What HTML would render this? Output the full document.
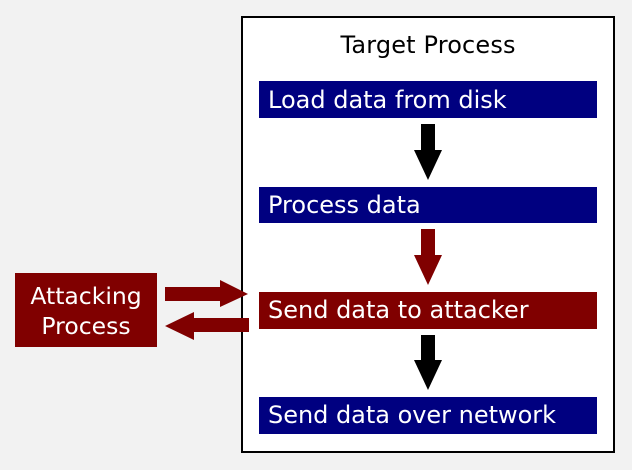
<!DOCTYPE html>
<html><head><style>html,body{margin:0;padding:0;background:#f2f2f2}svg{display:block}</style></head><body>
<svg width="632" height="470" xmlns="http://www.w3.org/2000/svg" font-family="DejaVu Sans, sans-serif">
<rect x="0" y="0" width="632" height="470" fill="#f2f2f2"/>
<rect x="242" y="17" width="372" height="435" fill="#fff" stroke="#000" stroke-width="2"/>
<text x="428" y="53" font-size="24" text-anchor="middle" fill="#000" textLength="175">Target Process</text>
<rect x="259" y="81" width="338" height="37" fill="#000080"/>
<text x="268" y="108" font-size="24" fill="#fff">Load data from disk</text>
<rect x="259" y="187" width="338" height="36" fill="#000080"/>
<text x="268" y="213" font-size="24" fill="#fff">Process data</text>
<rect x="259" y="292" width="338" height="37" fill="#800000"/>
<text x="268" y="318" font-size="24" fill="#fff">Send data to attacker</text>
<rect x="259" y="397" width="338" height="37" fill="#000080"/>
<text x="268" y="423" font-size="24" fill="#fff" textLength="288">Send data over network</text>
<polygon points="421,124 435,124 435,150 442,150 428,180 414,150 421,150" fill="#000"/>
<polygon points="421,229 435,229 435,255 442,255 428,285 414,255 421,255" fill="#800000"/>
<polygon points="421,335 435,335 435,360 442,360 428,390 414,360 421,360" fill="#000"/>
<rect x="15" y="273" width="142" height="74" fill="#800000"/>
<text x="86" y="304" font-size="23.5" text-anchor="middle" fill="#fff">Attacking</text>
<text x="86" y="334" font-size="23.5" text-anchor="middle" fill="#fff">Process</text>
<polygon points="165,287 220,287 220,280 248,294 220,307 220,301 165,301" fill="#800000"/>
<polygon points="249,318 194,318 194,312 165,326 194,340 194,332 249,332" fill="#800000"/>
</svg>
</body></html>
